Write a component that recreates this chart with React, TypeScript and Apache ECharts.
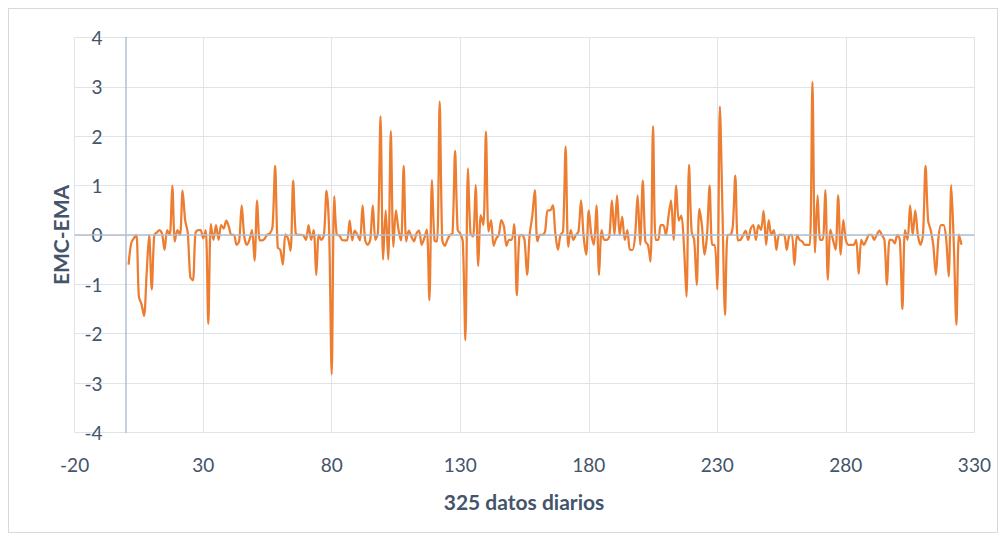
import React, { useEffect, useRef } from "react";
import * as echarts from "echarts";

// EMC-EMA value for each of the 325 days (day = index + 1)
const values: number[] = [
  -0.6, -0.17, -0.07, 0, -1.25, -1.4, -1.64, -0.8, 0, -1.1,
  0, 0.05, 0.1, 0.03, -0.3, 0.1, 0, 1.0, -0.13, 0.1,
  0, 0.9, 0.3, 0.05, -0.85, -0.92, 0.03, 0.1, 0.1, -0.07,
  0.1, -1.8, 0.22, -0.1, 0.2, -0.1, 0.2, 0.13, 0.29, 0.17,
  0, 0, -0.2, -0.13, 0.6, -0.03, -0.2, -0.1, 0.1, -0.52,
  0.7, -0.11, -0.11, -0.07, 0.01, 0.03, 0.17, 1.4, -0.25, -0.3,
  -0.6, 0.01, -0.07, -0.32, 1.1, 0.03, 0, 0, -0.01, -0.1,
  0.2, -0.1, 0.1, -0.81, 0, -0.1, 0, 0.9, 0.1, -2.82,
  0.78, 0, -0.01, -0.1, -0.11, -0.11, 0.29, -0.11, 0.09, 0,
  -0.11, 0.6, -0.1, -0.2, -0.1, 0.6, -0.1, 0.05, 2.4, -0.5,
  0.5, -0.5, 2.1, -0.24, 0.5, 0.1, -0.11, 1.4, -0.13, 0.09,
  -0.03, -0.13, 0.03, 0.09, -0.2, -0.07, 0.11, -1.32, 1.11, -0.11,
  -0.13, 2.7, -0.1, -0.22, -0.1, 0, 0.03, 1.7, 0.1, 0.03,
  -0.13, -2.13, 1.35, 0.03, -0.03, 1.01, -0.63, 0.4, 0.2, 2.09,
  0.07, 0.3, -0.22, -0.07, 0, 0.3, 0.17, -0.22, -0.1, -0.1,
  0.22, -1.22, -0.03, 0, -0.1, -0.81, 0, 0.37, 0.91, -0.13,
  0, 0, 0.07, 0.5, 0.5, 0.6, 0.03, -0.3, 0, 0.07,
  1.79, -0.24, 0.1, -0.1, 0, 0.07, 0.7, -0.03, -0.4, 0.5,
  0, -0.2, 0.6, -0.81, 0.1, -0.1, -0.1, -0.03, 0.7, 0,
  0.8, 0, 0.37, -0.1, 0.1, -0.3, -0.3, -0.03, 0.8, -0.2,
  1.1, -0.13, -0.2, -0.54, 2.2, -0.1, -0.1, 0.2, 0.2, 0,
  0.37, 0.7, -0.1, 1.0, 0.29, 0.39, -0.2, -1.25, 1.42, 0.07,
  -0.1, -1.01, 0.53, 0.2, -0.4, 0, 1.0, -0.2, -0.2, -1.1,
  2.6, 0.5, -1.62, 0, 0, 0.17, 1.2, -0.11, -0.1, -0.01,
  0.09, -0.1, 0.13, 0.2, -0.1, 0.2, 0.1, 0.49, -0.2, 0.3,
  0, 0.1, -0.3, 0, 0, 0, -0.3, -0.01, 0, -0.61,
  0, -0.1, -0.13, -0.2, -0.2, -0.2, 3.1, -0.36, 0.8, -0.1,
  -0.1, 0.91, -0.91, 0.11, -0.1, -0.3, 0.8, -0.4, 0.3, -0.1,
  -0.2, -0.2, -0.2, -0.1, -0.79, -0.1, -0.2, -0.1, 0, 0,
  -0.1, 0, 0.09, 0, -0.1, -1.01, -0.1, -0.1, -0.17, 0,
  -0.1, -1.5, 0.1, -0.1, 0.6, 0, 0.5, 0, -0.2, 0,
  1.4, 0.29, 0.1, -0.2, -0.81, -0.07, 0.2, 0.2, -0.07, -0.84,
  1.01, -0.2, -1.82, 0.01, -0.2,
];

const xMin = -20;
const xMax = 330;
const xStep = 50;
const yMin = -4;
const yMax = 4;
const yStep = 1;

const yTitle = "EMC-EMA";
const xTitle = "325 datos diarios";

const FONT = "Lato, 'Open Sans', sans-serif";
const TEXT = "#44546a";
const GRID = "#dfe3ea";
const AXIS = "#b3bfd1";

export default function App() {
  const ref = useRef<HTMLDivElement>(null);

  useEffect(() => {
    if (!ref.current) return;
    const chart = echarts.init(ref.current, undefined, { renderer: "svg" });
    const points = values.map((v, i) => [i + 1, v]);
    chart.setOption({
      animation: false,
      backgroundColor: "#ffffff",
      grid: { left: 65.6, top: 28.4, width: 899.8, height: 395.1, containLabel: false },
      xAxis: {
        type: "value",
        min: xMin,
        max: xMax,
        interval: xStep,
        axisLine: { show: false, onZero: false },
        axisTick: { show: false },
        splitLine: { show: true, lineStyle: { color: GRID, width: 1 } },
        axisLabel: { color: TEXT, fontFamily: FONT, fontSize: 19, margin: 22 },
      },
      yAxis: {
        type: "value",
        min: yMin,
        max: yMax,
        interval: yStep,
        axisLine: { show: true, onZero: true, lineStyle: { color: AXIS, width: 1.5 } },
        axisTick: { show: false },
        splitLine: { show: true, lineStyle: { color: GRID, width: 1 } },
        axisLabel: { color: TEXT, fontFamily: FONT, fontSize: 19, margin: -28 },
      },
      graphic: [
        {
          type: "text",
          x: 51,
          y: 226,
          rotation: Math.PI / 2,
          style: {
            text: yTitle,
            fill: TEXT,
            font: `bold 21px ${FONT}`,
            textAlign: "center",
            textVerticalAlign: "middle",
          },
        },
        {
          type: "text",
          x: 515,
          y: 492,
          style: {
            text: xTitle,
            fill: TEXT,
            font: `bold 21px ${FONT}`,
            textAlign: "center",
            textVerticalAlign: "middle",
          },
        },
      ],
      series: [
        {
          type: "line",
          data: [],
          silent: true,
          markLine: {
            silent: true,
            symbol: "none",
            label: { show: false },
            lineStyle: { color: AXIS, width: 1.5, type: "solid" },
            data: [{ yAxis: 0 }],
          },
        },
        {
          type: "line",
          data: points,
          showSymbol: false,
          smooth: 0.3,
          lineStyle: { color: "#ed7d31", width: 2.25 },
          itemStyle: { color: "#ed7d31" },
        },
      ],
    });
    return () => chart.dispose();
  }, []);

  return (
    <div style={{ width: 990, height: 525, border: "1px solid #d9d9d9", boxSizing: "border-box", position: "relative" }}>
      <div ref={ref} style={{ position: "absolute", left: 0, top: 0, width: 988, height: 523 }} />
    </div>
  );
}
